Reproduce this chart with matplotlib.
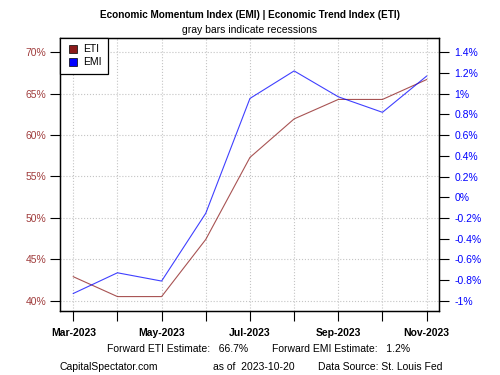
import numpy as np
import matplotlib.pyplot as plt
from matplotlib.lines import Line2D

plt.rcParams['font.family'] = ['Liberation Sans', 'DejaVu Sans']

# monthly data, Mar-2023 .. Nov-2023
months = ["Mar-2023", "Apr-2023", "May-2023", "Jun-2023", "Jul-2023",
          "Aug-2023", "Sep-2023", "Oct-2023", "Nov-2023"]
eti = [42.9, 40.5, 40.5, 47.4, 57.3, 61.95, 64.3, 64.3, 66.7]
emi = [-0.93, -0.73, -0.81, -0.155, 0.954, 1.22, 0.97, 0.82, 1.17]

eti_ticks = [40, 45, 50, 55, 60, 65, 70]
emi_ticks = [-1, -0.8, -0.6, -0.4, -0.2, 0, 0.2, 0.4, 0.6, 0.8, 1, 1.2, 1.4]

eti_col = "#8B1A1A"
emi_col = "#0000FF"

fig = plt.figure(figsize=(5, 3.75), dpi=100)
ax = fig.add_axes([0.12, 0.1707, 0.758, 0.728])
ax2 = ax.twinx()

x = np.arange(len(months))
ax.plot(x, eti, color=eti_col, lw=0.8, alpha=0.75)
ax2.plot(x, emi, color=emi_col, lw=0.8, alpha=0.75)

ax.set_xlim(-0.3, 8.28)
ax.set_ylim(38.76, 71.72)
ax2.set_ylim(-1.099, 1.538)

ax.set_xticks(x)
ax.set_xticklabels([m if i % 2 == 0 else "" for i, m in enumerate(months)],
                   fontsize=7.5, fontweight="bold")
ax.set_yticks(eti_ticks)
ax.set_yticklabels([f"{v}%" for v in eti_ticks], color="#A03C3C", fontsize=7.5)
ax2.set_yticks(emi_ticks)
ax2.set_yticklabels([f"{v:g}%" for v in emi_ticks], color=emi_col, fontsize=7.5)

ax.tick_params(axis="x", length=7, width=0.8, pad=5)
ax.tick_params(axis="y", length=7, width=0.8, pad=3)
ax2.tick_params(axis="y", length=7, width=0.8, pad=4)

ax.grid(True, color="#C4C4C4", linestyle=":", linewidth=0.8)
for a in (ax, ax2):
    for s in a.spines.values():
        s.set_linewidth(0.9)

handles = [Line2D([], [], marker="s", linestyle="", markersize=6,
                  markerfacecolor=eti_col, markeredgecolor="black", markeredgewidth=0.5),
           Line2D([], [], marker="s", linestyle="", markersize=6,
                  markerfacecolor=emi_col, markeredgecolor="black", markeredgewidth=0.5)]
leg = ax2.legend(handles, ["ETI", "EMI"], loc="upper left", fontsize=7.5,
                 fancybox=False, edgecolor="black", framealpha=1,
                 borderaxespad=0, handletextpad=0.4, handlelength=1.2,
                 labelspacing=0.3, borderpad=0.6)
leg.get_frame().set_linewidth(0.9)

fig.text(0.5, 0.96, "Economic Momentum Index (EMI) | Economic Trend Index (ETI)",
         ha="center", va="center", fontsize=7.2, fontweight="bold")
fig.text(0.5, 0.92, "gray bars indicate recessions", ha="center", va="center", fontsize=7.5)

fig.text(0.214, 0.069, "Forward ETI Estimate:   66.7%", ha="left", va="center", fontsize=7.5)
fig.text(0.544, 0.069, "Forward EMI Estimate:   1.2%", ha="left", va="center", fontsize=7.5)
fig.text(0.12, 0.021, "CapitalSpectator.com", ha="left", va="center", fontsize=7.5)
fig.text(0.426, 0.021, "as of  2023-10-20", ha="left", va="center", fontsize=7.5)
fig.text(0.636, 0.021, "Data Source: St. Louis Fed", ha="left", va="center", fontsize=7.5)

fig.savefig("out.png", dpi=100)
